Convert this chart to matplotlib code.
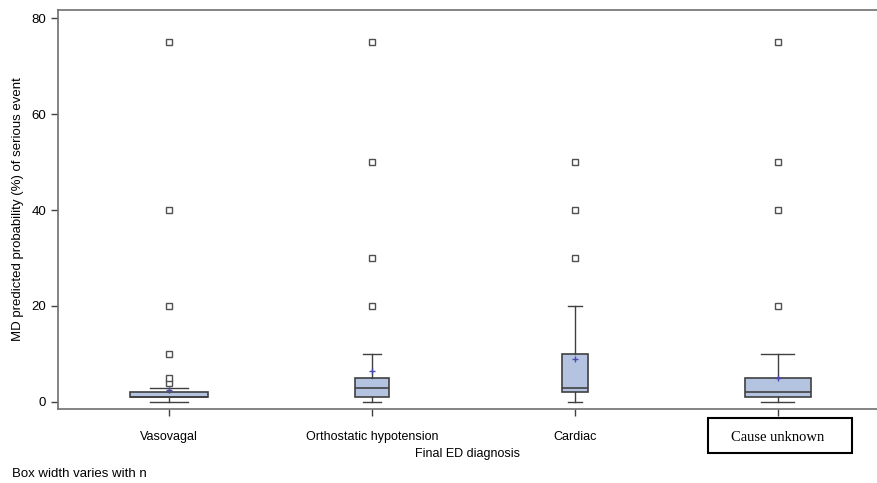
import matplotlib
matplotlib.use('Agg')
import matplotlib.pyplot as plt
import matplotlib.patches as mpatches

# Box plot summary per final ED diagnosis
categories = ['Vasovagal', 'Orthostatic hypotension', 'Cardiac', 'Cause unknown']
q1 = [1, 1, 2, 1]
medians = [1, 3, 3, 2]
q3 = [2, 5, 10, 5]
whislo = [0, 0, 0, 0]
whishi = [3, 10, 20, 10]
means = [2.5, 6.5, 9.0, 4.9]
outliers = [
    [4, 5, 10, 20, 40, 75],
    [20, 30, 50, 75],
    [30, 40, 50],
    [20, 40, 50, 75],
]
# relative box widths (box width varies with n)
box_widths = [0.38, 0.17, 0.13, 0.325]

stats = []
for i in range(len(categories)):
    stats.append(dict(label=categories[i], q1=q1[i], med=medians[i], q3=q3[i],
                      whislo=whislo[i], whishi=whishi[i], mean=means[i],
                      fliers=outliers[i]))

fig = plt.figure(figsize=(8.78, 4.83), dpi=100)
ax = fig.add_axes([58 / 878, 74 / 483, 820 / 878, 399 / 483])

edge = '#404040'
ax.bxp(stats, positions=[1, 2, 3, 4], widths=box_widths, patch_artist=True,
       showmeans=True, showfliers=True,
       boxprops=dict(facecolor='#b4c4e0', edgecolor=edge, linewidth=1.2),
       medianprops=dict(color=edge, linewidth=1.2),
       whiskerprops=dict(color=edge, linewidth=1.0),
       capprops=dict(color=edge, linewidth=1.0),
       capwidths=[w / 2 for w in box_widths],
       meanprops=dict(marker='+', markeredgecolor='#4a4ab0', markersize=5,
                      markeredgewidth=1.0, linestyle='none'),
       flierprops=dict(marker='s', markerfacecolor='white', markeredgecolor='#505050',
                       markersize=5, markeredgewidth=1.0, linestyle='none'))

ax.set_xlim(0.453, 4.493)
ax.set_ylim(-1.46, 81.67)
ax.set_yticks([0, 20, 40, 60, 80])

for s in ['top', 'left', 'bottom']:
    ax.spines[s].set_color('#707070')
    ax.spines[s].set_linewidth(1.2)
ax.spines['right'].set_visible(False)
ax.tick_params(axis='both', colors='#404040', labelcolor='black', labelsize=9,
               length=5, width=1)
ax.tick_params(axis='x', pad=10.5)

ax.set_xticks([1, 2, 3, 4])
ax.set_xticklabels(categories, family='Liberation Sans')
for lab in ax.get_yticklabels():
    lab.set_family('Liberation Sans')
    lab.set_fontsize(9.5)
last = ax.get_xticklabels()[-1]
last.set_family('Liberation Serif')
last.set_fontsize(10.5)

# frame around the "Cause unknown" label
fig.add_artist(mpatches.Rectangle((708 / 878, 30 / 483), 144 / 878, 35 / 483,
                                  transform=fig.transFigure, fill=False,
                                  edgecolor='black', linewidth=1.5))

ax.set_xlabel('Final ED diagnosis', family='Liberation Sans', fontsize=9, labelpad=3.5)
ax.set_ylabel('MD predicted probability (%) of serious event', family='Liberation Sans',
              fontsize=9.5, labelpad=5)

fig.text(12 / 878, 3 / 483, 'Box width varies with n', family='Liberation Sans',
         fontsize=9.5, ha='left', va='bottom')

fig.savefig('out.png', dpi=100)
